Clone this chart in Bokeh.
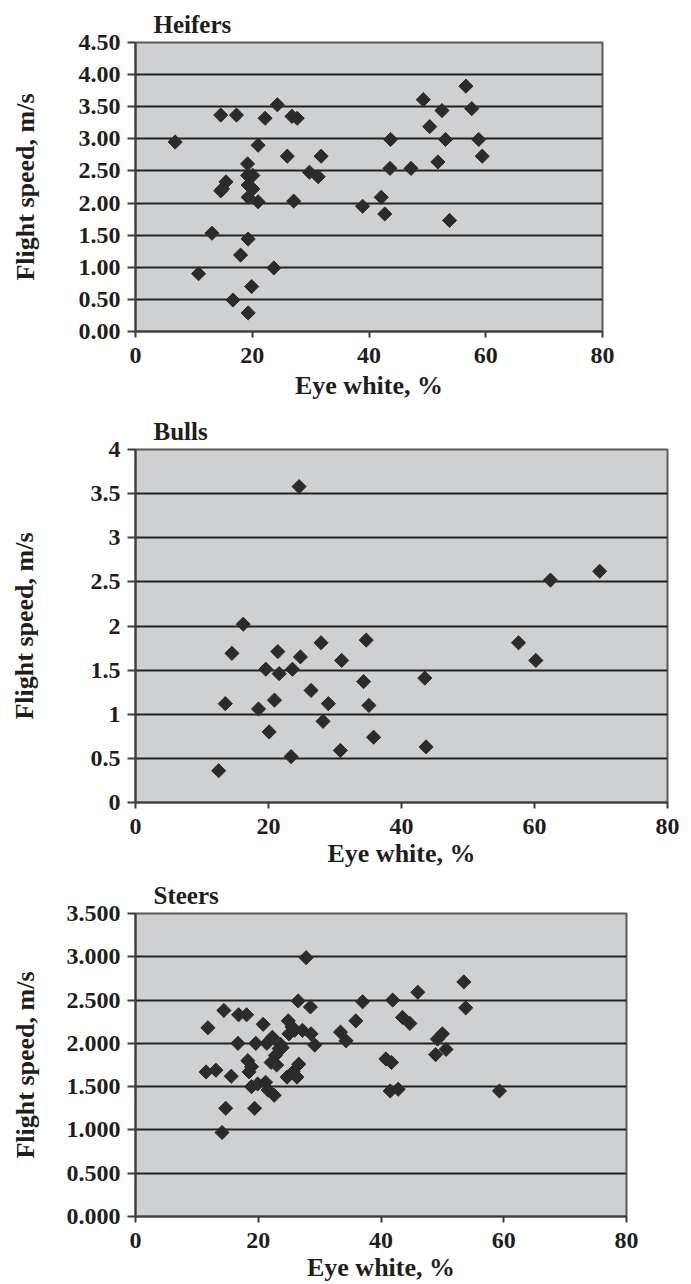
import math
from bokeh.plotting import figure
from bokeh.models import Range1d, FixedTicker, Title, NumeralTickFormatter
from bokeh.layouts import column
from bokeh.embed import file_html
from bokeh.resources import INLINE

# ---------------- data ----------------
x_ticks = [0, 20, 40, 60, 80]

heifers_eye = [6.8, 10.8, 13.1, 14.6, 14.6, 14.9, 15.5, 16.7, 17.3, 18.0,
               19.2, 19.2, 19.3, 19.3, 19.3, 19.3, 20.1, 20.1, 19.9, 21.0,
               21.0, 22.2, 23.7, 24.3, 26.0, 26.8, 27.7, 27.1, 29.8, 31.3,
               31.8, 38.9, 42.1, 42.7, 43.6, 43.7, 47.2, 49.3, 50.4, 51.8,
               52.5, 53.1, 53.8, 56.6, 57.6, 58.8, 59.4]
heifers_speed = [2.95, 0.90, 1.53, 3.37, 2.19, 2.22, 2.33, 0.49, 3.37, 1.19,
                 2.61, 2.43, 2.28, 2.09, 1.44, 0.29, 2.43, 2.22, 0.70, 2.02,
                 2.90, 3.32, 0.99, 3.53, 2.73, 3.35, 3.32, 2.03, 2.48, 2.41,
                 2.73, 1.95, 2.09, 1.83, 2.54, 2.99, 2.54, 3.61, 3.19, 2.64,
                 3.44, 2.99, 1.73, 3.82, 3.47, 2.99, 2.73]
heifers_yticks = [0, 0.5, 1.0, 1.5, 2.0, 2.5, 3.0, 3.5, 4.0, 4.5]

bulls_eye = [12.5, 13.5, 14.5, 16.2, 18.5, 19.6, 20.1, 20.9, 21.4, 21.6,
             23.4, 23.6, 24.6, 24.8, 26.4, 27.9, 28.2, 29.0, 30.8, 31.0,
             34.3, 34.7, 35.1, 35.8, 43.5, 43.7, 57.6, 60.2, 62.4, 69.8]
bulls_speed = [0.36, 1.12, 1.69, 2.02, 1.06, 1.51, 0.80, 1.16, 1.71, 1.46,
               0.52, 1.51, 3.58, 1.65, 1.27, 1.81, 0.92, 1.12, 0.59, 1.61,
               1.37, 1.84, 1.10, 0.74, 1.41, 0.63, 1.81, 1.61, 2.52, 2.62]
bulls_yticks = [0, 0.5, 1, 1.5, 2, 2.5, 3, 3.5, 4]

steers_eye = [11.5, 11.8, 13.1, 14.1, 14.4, 14.7, 15.6, 16.7, 16.8, 18.1,
              18.3, 18.5, 18.9, 18.9, 19.4, 19.6, 19.9, 20.8, 21.2, 21.4,
              21.6, 22.1, 22.3, 22.6, 22.8, 23.0, 23.4, 23.6, 23.9, 24.7,
              24.9, 25.0, 25.5, 25.7, 25.9, 26.3, 26.6, 26.5, 27.2, 27.8,
              28.5, 28.6, 29.2, 33.4, 34.3, 35.9, 37.0, 40.8, 41.7, 41.5,
              41.9, 42.8, 43.5, 44.7, 46.0, 48.9, 49.2, 50.0, 50.6, 53.5,
              53.8, 59.3]
steers_speed = [1.67, 2.18, 1.69, 0.97, 2.38, 1.25, 1.62, 2.00, 2.33, 2.33,
                1.80, 1.67, 1.73, 1.50, 1.25, 2.00, 1.53, 2.22, 1.55, 2.00,
                1.46, 1.78, 2.07, 1.40, 1.86, 1.75, 1.94, 1.99, 1.95, 1.61,
                2.26, 2.11, 2.19, 1.67, 2.15, 1.61, 1.76, 2.49, 2.15, 2.99,
                2.42, 2.11, 1.98, 2.13, 2.03, 2.26, 2.48, 1.82, 1.78, 1.45,
                2.50, 1.47, 2.30, 2.23, 2.59, 1.87, 2.05, 2.11, 1.93, 2.71,
                2.41, 1.45]
steers_yticks = [0, 0.5, 1.0, 1.5, 2.0, 2.5, 3.0, 3.5]

FONT = "Liberation Serif"
TXT = "#1e1e1e"


def panel(title, xs, ys, yticks, fmt, frame_w, frame_h, b_top, b_bottom,
          b_right, ylab_standoff, xlab_standoff):
    p = figure(frame_width=frame_w, frame_height=frame_h,
               min_border_left=135, min_border_right=b_right,
               min_border_top=b_top, min_border_bottom=b_bottom,
               x_range=Range1d(x_ticks[0], x_ticks[-1]),
               y_range=Range1d(yticks[0], yticks[-1]),
               output_backend="svg", toolbar_location=None)
    p.background_fill_color = "#cfd0d2"
    p.border_fill_color = "white"
    p.outline_line_color = "#5a5a5a"
    p.outline_line_width = 2
    p.xgrid.visible = False
    p.ygrid.grid_line_color = "#222222"
    p.ygrid.grid_line_width = 2.2
    p.ygrid.ticker = FixedTicker(ticks=yticks)

    for ax in (p.xaxis[0], p.yaxis[0]):
        ax.axis_line_color = "#3c3c3c"
        ax.axis_line_width = 2
        ax.major_tick_line_color = "#3c3c3c"
        ax.major_tick_line_width = 2
        ax.major_tick_in = 0
        ax.minor_tick_line_color = None
        ax.major_label_text_font = FONT
        ax.major_label_text_font_style = "bold"
        ax.major_label_text_font_size = "24px"
        ax.major_label_text_color = TXT
        ax.axis_label_text_font = FONT
        ax.axis_label_text_font_style = "bold"
        ax.axis_label_text_font_size = "26px"
        ax.axis_label_text_color = TXT

    p.xaxis.ticker = FixedTicker(ticks=x_ticks)
    p.xaxis.major_tick_out = 6
    p.xaxis.major_label_standoff = 10
    p.xaxis.axis_label = "Eye white, %"
    p.xaxis.axis_label_standoff = xlab_standoff

    p.yaxis.ticker = FixedTicker(ticks=yticks)
    p.yaxis.formatter = NumeralTickFormatter(format=fmt)
    p.yaxis.major_tick_out = 8
    p.yaxis.major_label_standoff = 7
    p.yaxis.axis_label = "Flight speed, m/s"
    p.yaxis.axis_label_standoff = ylab_standoff

    p.scatter(xs, ys, marker="square", angle=math.pi / 4, size=10,
              fill_color="#2b2b2b", line_color="#2b2b2b")

    p.add_layout(Title(text=title, align="left", offset=18, standoff=9,
                       text_font=FONT, text_font_style="bold",
                       text_font_size="25px", text_color=TXT), "above")
    return p


p1 = panel("Heifers", heifers_eye, heifers_speed, heifers_yticks, "0.00",
           467, 289, 42, 74, 15, 36, 5)
p2 = panel("Bulls", bulls_eye, bulls_speed, bulls_yticks, "0.[0]",
           532, 353, 44, 68, 16, 49, 2)
p3 = panel("Steers", steers_eye, steers_speed, steers_yticks, "0.000",
           491, 303, 43, 68, 15, 24, 2)

layout = column(p1, p2, p3, spacing=0)
open("out.html", "w").write(file_html(layout, INLINE))
